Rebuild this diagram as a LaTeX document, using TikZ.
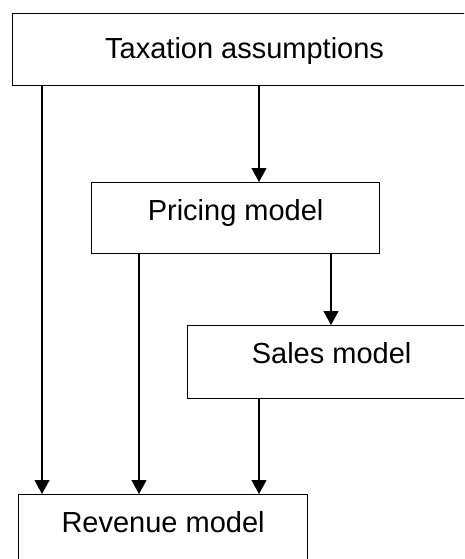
\documentclass[tikz,border=0pt]{standalone}
\usepackage{fontspec}
\setmainfont{Liberation Sans}
\usetikzlibrary{arrows.meta}
\begin{document}
\begin{tikzpicture}[x=1pt,y=-1pt,
  box/.style={draw, line width=1.2pt, anchor=north west, inner xsep=0pt, inner ysep=17pt,
    text height=21pt, font=\fontsize{29}{35}\selectfont},
  arr/.style={line width=1.2pt, -{Triangle[length=14pt,width=15pt]}}]
\useasboundingbox (0,0) rectangle (464,559);
\clip (0,0) rectangle (464,559);
\fill[white] (0,0) rectangle (464,559);
\node[box, minimum width=464pt, inner ysep=24pt, text depth=3pt] (tax) at (12,13) {Taxation assumptions};
\node[box, minimum width=288pt, text depth=16pt] (pri) at (91,182) {Pricing model};
\node[box, minimum width=288pt, text depth=18pt] (sal) at (187,325) {Sales model};
\node[box, minimum width=289pt, text depth=17pt] (rev) at (18,494) {Revenue model};
\coordinate (c1) at (42,0);
\coordinate (c2) at (259,0);
\coordinate (c3) at (139,0);
\coordinate (c4) at (331,0);
\draw[arr] (tax.south -| c1) -- (rev.north -| c1);
\draw[arr] (tax.south -| c2) -- (pri.north -| c2);
\draw[arr] (pri.south -| c3) -- (rev.north -| c3);
\draw[arr] (pri.south -| c4) -- (sal.north -| c4);
\draw[arr] (sal.south -| c2) -- (rev.north -| c2);
\end{tikzpicture}
\end{document}
